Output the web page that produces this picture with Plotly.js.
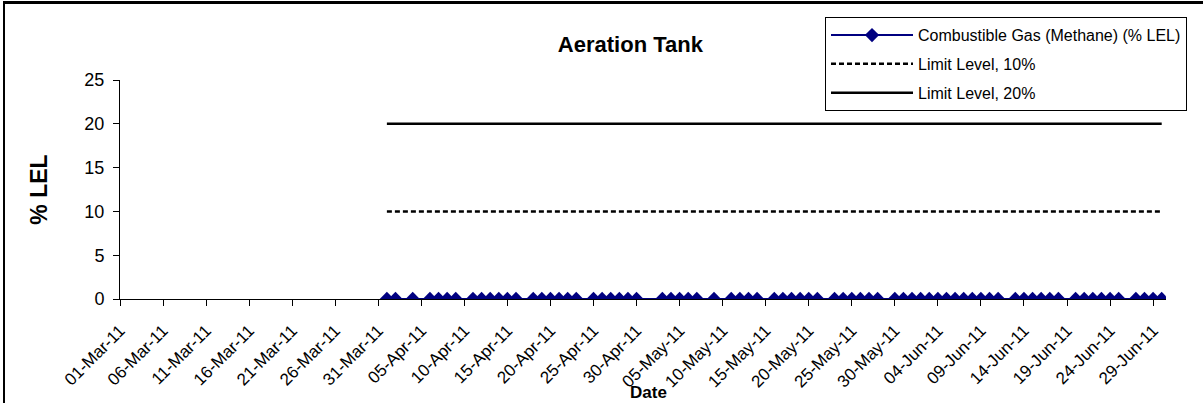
<!DOCTYPE html>
<html>
<head>
<meta charset="utf-8">
<script src="https://cdn.plot.ly/plotly-3.0.1.min.js"></script>
<style>
  html, body { margin: 0; padding: 0; background: #fff; }
  #wrap { position: relative; width: 1203px; height: 403px; overflow: hidden; }
  #chart { width: 1203px; height: 403px; }
  #frame { position: absolute; left: 3px; top: 1px; width: 1300px; height: 500px;
           border-left: 2px solid #000; border-top: 3px solid #000; pointer-events: none; }
</style>
</head>
<body>
<div id="wrap"><div id="chart"></div><div id="frame"></div></div>
<script>
// Sample dates (daily readings, April - June 2011)
const dates = [
  '2011-04-01','2011-04-02','2011-04-04','2011-04-06','2011-04-07','2011-04-08','2011-04-09',
  '2011-04-11','2011-04-12','2011-04-13','2011-04-14','2011-04-15','2011-04-16',
  '2011-04-18','2011-04-19','2011-04-20','2011-04-21','2011-04-22','2011-04-23',
  '2011-04-25','2011-04-26','2011-04-27','2011-04-28','2011-04-29','2011-04-30',
  '2011-05-03','2011-05-04','2011-05-05','2011-05-06','2011-05-07','2011-05-09',
  '2011-05-11','2011-05-12','2011-05-13','2011-05-14',
  '2011-05-16','2011-05-17','2011-05-18','2011-05-19','2011-05-20','2011-05-21',
  '2011-05-23','2011-05-24','2011-05-25','2011-05-26','2011-05-27','2011-05-28',
  '2011-05-30','2011-05-31','2011-06-01','2011-06-02','2011-06-03','2011-06-04','2011-06-05',
  '2011-06-06','2011-06-07','2011-06-08','2011-06-09','2011-06-10','2011-06-11',
  '2011-06-13','2011-06-14','2011-06-15','2011-06-16','2011-06-17','2011-06-18',
  '2011-06-20','2011-06-21','2011-06-22','2011-06-23','2011-06-24','2011-06-25',
  '2011-06-27','2011-06-28','2011-06-29','2011-06-30'
];
// Combustible gas readings (% LEL)
const methane = [
  0,0,0,0,0,0,0,
  0,0,0,0,0,0,
  0,0,0,0,0,0,
  0,0,0,0,0,0,
  0,0,0,0,0,0,
  0,0,0,0,
  0,0,0,0,0,0,
  0,0,0,0,0,0,
  0,0,0,0,0,0,0,
  0,0,0,0,0,0,
  0,0,0,0,0,0,
  0,0,0,0,0,0,
  0,0,0,0
];
const limit10 = [10, 10];
const limit20 = [20, 20];
const limitDates = ['2011-04-01', '2011-06-30'];
const seriesNames = ['Combustible Gas (Methane) (% LEL)', 'Limit Level, 10%', 'Limit Level, 20%'];
const yTicks = [0, 5, 10, 15, 20, 25];

const FONT = 'Arial, "Liberation Sans", sans-serif';

const traces = [
  { x: dates, y: methane, name: seriesNames[0], type: 'scatter', mode: 'lines+markers',
    line: { color: '#000080', width: 2 },
    marker: { symbol: 'diamond', size: 11, color: '#000080', line: { width: 0 } },
    legendgroup: 'a' },
  { x: limitDates, y: limit10, name: seriesNames[1], type: 'scatter', mode: 'lines',
    line: { color: '#000000', width: 2.5, dash: '5px,3px' }, legendgroup: 'b' },
  { x: limitDates, y: limit20, name: seriesNames[2], type: 'scatter', mode: 'lines',
    line: { color: '#000000', width: 2.5 }, legendgroup: 'c' }
];

const layout = {
  width: 1203, height: 403,
  margin: { l: 120, r: 37, t: 80, b: 104 },
  paper_bgcolor: '#ffffff', plot_bgcolor: '#ffffff',
  font: { family: FONT, color: '#000000' },
  title: { text: '<b>Aeration Tank</b>', font: { family: FONT, size: 22, color: '#000' },
           xref: 'container', x: 0.524, xanchor: 'center', yref: 'container', y: 0.89, yanchor: 'middle' },
  xaxis: {
    type: 'date',
    range: ['2011-03-01', '2011-06-30 12:00'],
    tick0: '2011-03-01', dtick: 5 * 86400000,
    tickformat: '%d-%b-%y', tickangle: -45,
    tickfont: { family: FONT, size: 17, color: '#000' },
    ticks: 'outside', ticklen: 6, tickcolor: '#000', tickwidth: 1,
    ticklabelstandoff: 8,
    showline: true, linecolor: '#000', linewidth: 1,
    showgrid: false, zeroline: false, automargin: false
  },
  yaxis: {
    range: [0, 25], tickvals: yTicks, ticktext: yTicks.map(String),
    tickfont: { family: FONT, size: 18, color: '#000' },
    ticks: 'outside', ticklen: 6, tickcolor: '#000', tickwidth: 1,
    showline: true, linecolor: '#000', linewidth: 1,
    showgrid: false, zeroline: false, automargin: false,
    ticklabelstandoff: 5,
    title: { text: '<b>% LEL</b>', font: { family: FONT, size: 23, color: '#000' }, standoff: 30 }
  },
  showlegend: true,
  legend: {
    x: 0.674, y: 1.287, xanchor: 'left', yanchor: 'top',
    bgcolor: '#ffffff', bordercolor: '#000', borderwidth: 1,
    font: { family: FONT, size: 16, color: '#000' },
    traceorder: 'grouped', tracegroupgap: 5, itemwidth: 82
  },
  annotations: [
    { text: '<b>Date</b>', xref: 'paper', yref: 'paper', x: 0.505, y: -0.427,
      xanchor: 'center', yanchor: 'middle', showarrow: false,
      font: { family: FONT, size: 17, color: '#000' } }
  ]
};

Plotly.newPlot('chart', traces, layout, { staticPlot: true, displayModeBar: false });
</script>
</body>
</html>
